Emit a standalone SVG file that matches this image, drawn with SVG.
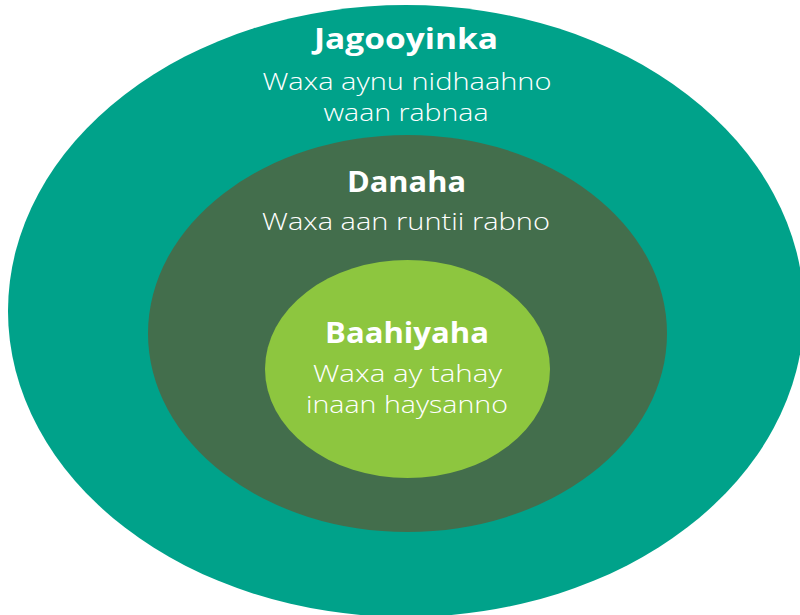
<svg xmlns="http://www.w3.org/2000/svg" width="800" height="615" viewBox="0 0 800 615">
  <style>
    .title { font-family: "Open Sans", "Liberation Sans", sans-serif; font-weight: 700; font-size: 29px; fill: #ffffff; text-anchor: middle; }
    .desc { font-family: "Open Sans", "Liberation Sans", sans-serif; font-weight: 300; font-size: 23.5px; fill: #ffffff; text-anchor: middle; }
  </style>
  <rect width="800" height="615" fill="#ffffff"/>

  <!-- outer ring -->
  <g id="jagooyinka">
    <ellipse cx="406" cy="311" rx="398" ry="306" fill="#00A28A"/>
    <text class="title" x="406" y="49" textLength="184" lengthAdjust="spacingAndGlyphs">Jagooyinka</text>
    <text class="desc" x="407" y="90" textLength="289" lengthAdjust="spacingAndGlyphs">Waxa aynu nidhaahno</text>
    <text class="desc" x="406" y="121" textLength="165" lengthAdjust="spacingAndGlyphs">waan rabnaa</text>
  </g>

  <!-- middle ring -->
  <g id="danaha">
    <ellipse cx="407.5" cy="333.5" rx="259.5" ry="198.5" fill="#436E4C"/>
    <text class="title" x="406.5" y="192" textLength="119" lengthAdjust="spacingAndGlyphs">Danaha</text>
    <text class="desc" x="406" y="230" textLength="288" lengthAdjust="spacingAndGlyphs">Waxa aan runtii rabno</text>
  </g>

  <!-- core -->
  <g id="baahiyaha">
    <ellipse cx="407.5" cy="369" rx="142.5" ry="109" fill="#8DC63F"/>
    <text class="title" x="407" y="343" textLength="164" lengthAdjust="spacingAndGlyphs">Baahiyaha</text>
    <text class="desc" x="407.5" y="382" textLength="189" lengthAdjust="spacingAndGlyphs">Waxa ay tahay</text>
    <text class="desc" x="407" y="413" textLength="202" lengthAdjust="spacingAndGlyphs">inaan haysanno</text>
  </g>

  <g id="connectors"/>
</svg>
